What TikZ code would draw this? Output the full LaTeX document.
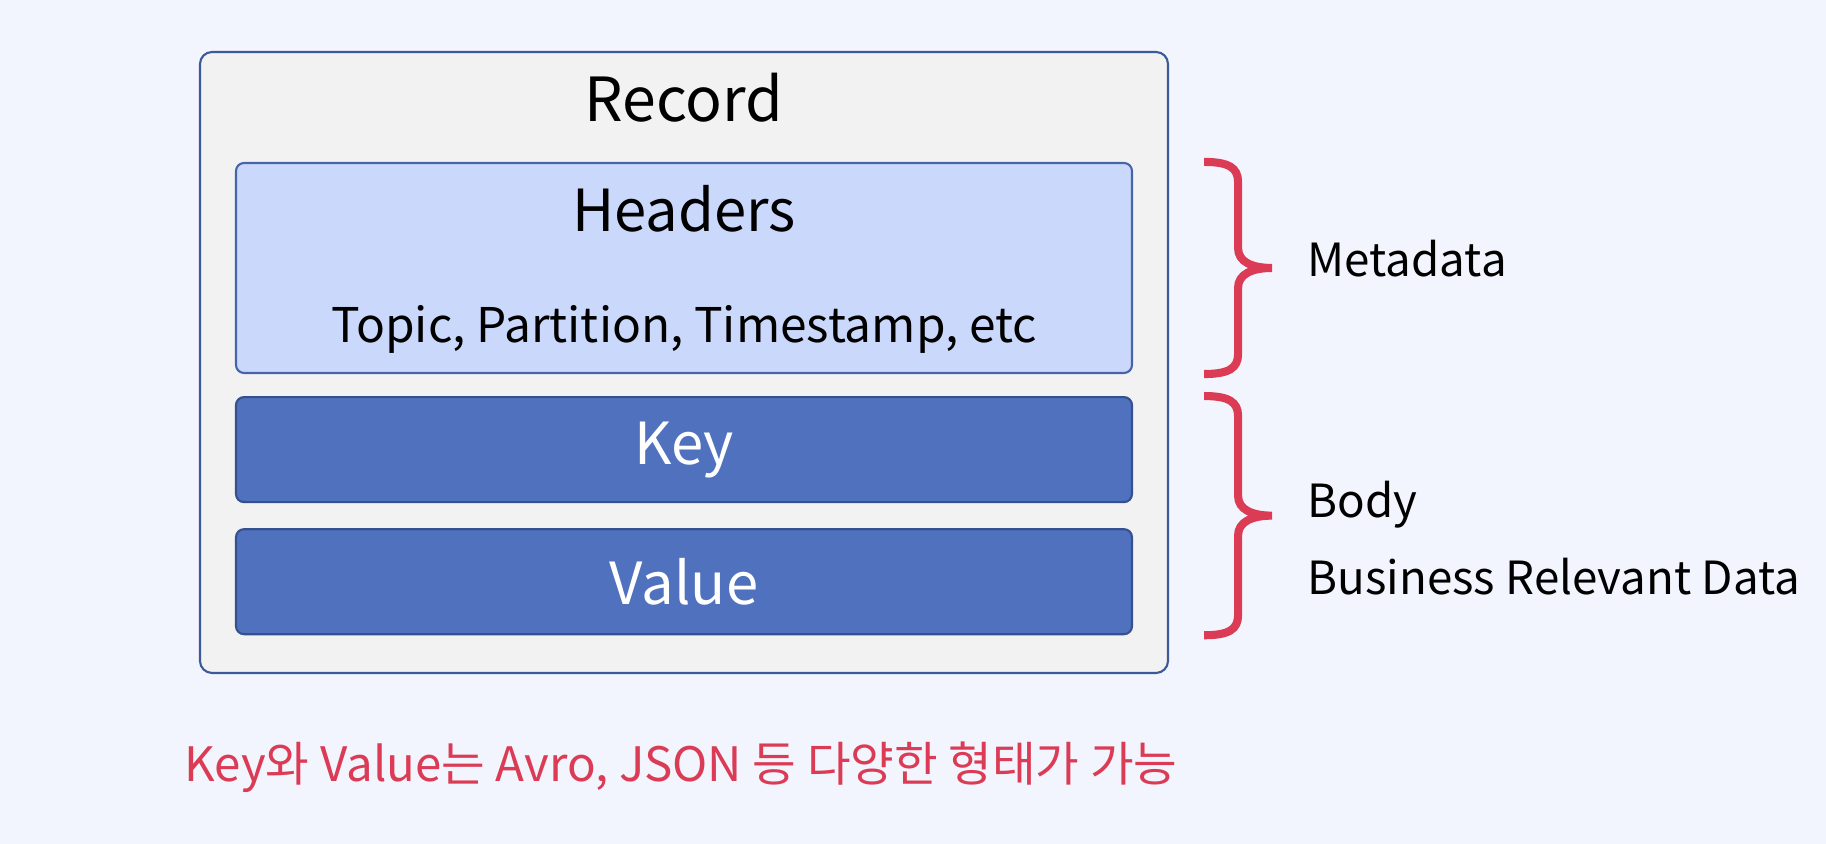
\documentclass[tikz,border=0pt]{standalone}
\usepackage{fontspec}
\setmainfont{Noto Sans CJK KR}
\usetikzlibrary{positioning, calc}

\definecolor{bgcol}{HTML}{F2F5FD}
\definecolor{recfill}{HTML}{F2F2F2}
\definecolor{recline}{HTML}{3D5A98}
\definecolor{hdrfill}{HTML}{CAD8FB}
\definecolor{hdrline}{HTML}{4864A8}
\definecolor{kvfill}{HTML}{5072BE}
\definecolor{kvline}{HTML}{34508E}
\definecolor{accent}{HTML}{DB3B55}

\begin{document}
\begin{tikzpicture}[
        record/.style={draw=recline,fill=recfill,line width=0.6pt,rounded corners=0.12cm,minimum width=9.68cm,minimum height=6.21cm},
        header/.style={draw=hdrline,fill=hdrfill,line width=0.6pt,rounded corners=0.08cm,minimum width=8.96cm,minimum height=2.10cm},
        field/.style={draw=kvline,fill=kvfill,line width=0.6pt,rounded corners=0.08cm,minimum width=8.96cm,minimum height=1.05cm,text=white,font=\fontsize{16.5}{20}\selectfont},
        bracket/.style={draw=accent,line width=2.3pt},
        side/.style={anchor=base west,inner sep=0pt,font=\fontsize{13}{16}\selectfont}]
        \fill[bgcol] (0,0) rectangle (18.26,8.44);
        \useasboundingbox (0,0) rectangle (18.26,8.44);

        \node[record] (record) at (6.84,4.815) {};
        \node[header] (headers) at (6.84,5.76) {};
        \node[field, below=0.22cm of headers] (key) {Key};
        \node[field, below=0.25cm of key] (value) {Value};

        \node[anchor=base,font=\fontsize{17.3}{20}\selectfont] (title) at (6.84,7.22) {Record};
        \node[anchor=base,font=\fontsize{16.5}{20}\selectfont] (hdrtitle) at (6.84,6.12) {Headers};
        \node[anchor=base,font=\fontsize{13.6}{16}\selectfont] (hdrtext) at (6.84,5.01) {Topic, Partition, Timestamp, etc};

        \foreach \bfrom/\bto in {headers/headers, key/value}{
            \coordinate (bt) at ($(\bfrom.north east)+(0.71,0)$);
            \coordinate (bb) at ($(\bto.south east)+(0.71,0)$);
            \coordinate (bm) at ($(bt)!0.5!(bb)+(0.68,0)$);
            \draw[bracket] (bt) .. controls +(0.25,0) and +(0,0.14) .. ($(bt)+(0.34,-0.2)$)
                -- ($(bm)+(-0.34,0.2)$) .. controls +(0,-0.14) and +(-0.2,0) .. (bm)
                .. controls +(-0.2,0) and +(0,0.14) .. ($(bm)+(-0.34,-0.2)$)
                -- ($(bb)+(0.34,0.2)$) .. controls +(0,-0.14) and +(0.25,0) .. (bb);
        }

        \node[side] (meta) at (13.07,5.67) {Metadata};
        \node[side] (body) at (13.07,3.26) {Body};
        \node[side] (business) at (13.07,2.49) {Business Relevant Data};

        \node[anchor=base,text=accent,font=\fontsize{13.5}{16}\selectfont] (note) at (6.81,0.62) {Key와 Value는 Avro, JSON 등 다양한 형태가 가능};
    \end{tikzpicture}
\end{document}
